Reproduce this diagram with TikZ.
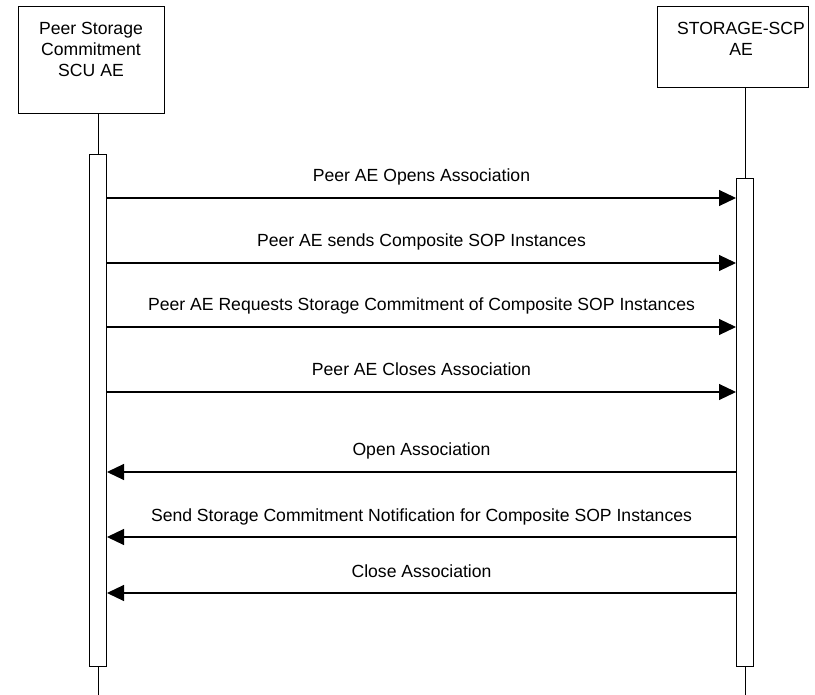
\documentclass[tikz,border=0pt]{standalone}
\usepackage{fontspec}
\setmainfont{Liberation Sans}
\usetikzlibrary{arrows.meta,positioning}

\begin{document}
\begin{tikzpicture}[x=1pt, y=-1pt, font=\fontsize{17.6}{21}\selectfont,
	actorbox/.style={draw, line width=1pt, inner sep=0},
	actortext/.style={anchor=north, align=center, inner sep=0},
	bar/.style={draw, line width=1pt, fill=white, minimum width=17pt, inner sep=0},
	msg/.style={line width=1.1pt},
	send/.style={-{Triangle[length=17pt, width=16pt]}},
	reply/.style={{Triangle[length=17pt, width=16pt]}-},
	msg label/.style={anchor=base, yshift=16pt, inner sep=0}]
	\useasboundingbox (0,0) rectangle (815,695);
	%boxes
	\node[actorbox, minimum width=146pt, minimum height=107pt] (scu box) at (91,60.5) {};
	\node[actortext] (scu name) at (91,22) {Peer Storage\\Commitment\\SCU AE};
	\node[actorbox, minimum width=151pt, minimum height=81pt] (scp box) at (733,47.5) {};
	\node[actortext] (scp name) at (741,22) {STORAGE-SCP\\AE};
	%activation bars
	\node[bar, minimum height=511pt] (scu bar) at (98,410.5) {};
	\node[bar, minimum height=487pt] (scp bar) at (745,422.5) {};
	%lifelines
	\coordinate (scu end) at (98,695);
	\coordinate (scp end) at (745,695);
	\draw[line width=1pt] (scu bar.north |- scu box.south) -- (scu bar.north);
	\draw[line width=1pt] (scu bar.south) -- (scu end);
	\draw[line width=1pt] (scp bar.north |- scp box.south) -- (scp bar.north);
	\draw[line width=1pt] (scp bar.south) -- (scp end);
	%messages
	\foreach \y/\msg in {
		198/Peer AE Opens Association,
		263/Peer AE sends Composite SOP Instances,
		327/Peer AE Requests Storage Commitment of Composite SOP Instances,
		392/Peer AE Closes Association
	}
	\draw[msg, send] (scu bar.east |- 0,\y) -- node[msg label] {\msg} (scp bar.west |- 0,\y);
	\foreach \y/\msg in {
		472/Open Association,
		537/Send Storage Commitment Notification for Composite SOP Instances,
		593/Close Association
	}
	\draw[msg, reply] (scu bar.east |- 0,\y) -- node[msg label] {\msg} (scp bar.west |- 0,\y);
\end{tikzpicture}
\end{document}
